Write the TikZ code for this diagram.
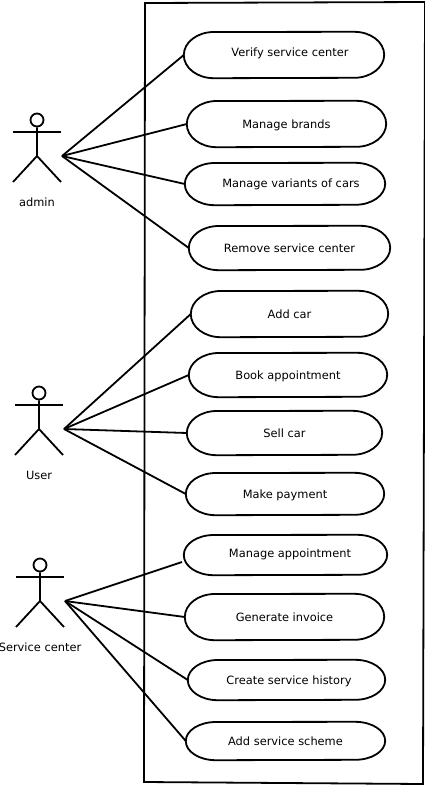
\documentclass[tikz,border=0pt]{standalone}
\usepackage{fontspec}
\setmainfont{DejaVu Sans}
\tikzset{
  usecase/.style={inner sep=0pt, text height=10pt, text depth=2pt},
  actorlabel/.style={inner sep=0pt, text height=10pt, text depth=2pt},
  link/.style={line width=1.8pt},
  stick/.style={line width=1.8pt}
}
\begin{document}
\begin{tikzpicture}[x=1pt,y=-1pt,font=\fontsize{11.4}{13}\selectfont]
\useasboundingbox (0,0) rectangle (425,785);
%\draw[help lines,step=50pt] (0,0) grid (425,785);
\draw [link] (145,3) -- (425,2) -- (423,784) -- (144,782) -- cycle;
% actors
\foreach \n/\x/\y/\t in {admin/37/120/admin,user/39/393/User,service/40/565/Service center} {
  \node [draw, circle, stick, minimum size=13pt, inner sep=0pt] (\n head) at (\x,\y) {};
  \draw [stick] (\n head.south) -- (\x,\y+36) -- (\x-24,\y+62);
  \draw [stick] (\x,\y+36) -- (\x+24,\y+62);
  \draw [stick] (\x-24,\y+12) -- (\x+24,\y+12);
  \coordinate (\n) at (\x+25,\y+36);
  \node [actorlabel] (\n label) at (\x,\y+82) {\t};
}
% use cases
\foreach \n/\cx/\cy/\w/\h/\dx/\dy/\t in {
  verify/284/55/200/46/12/3/Verify service center,
  brands/286.5/124/199/46/0/0/Manage brands,
  variants/285/184/200/42/12/1/Manage variants of cars,
  remove/289.5/248/201/44/0/0/Remove service center,
  addcar/289.5/314/197/46/0/0/Add car,
  book/288/375/198/44/0/0/Book appointment,
  sell/284.5/433/195/44/0/0/Sell car,
  payment/285/494/198/42/0/0/Make payment,
  appointment/285.5/555/203/40/9/2/Manage appointment,
  invoice/284.5/617/199/46/0/0/Generate invoice,
  history/286.5/680/197/40/5/0/Create service history,
  scheme/285.5/741/199/38/0/0/Add service scheme} {
  \node [usecase, minimum width=\w pt, minimum height=\h pt] (\n) at (\cx,\cy)
    {\hspace*{\dx pt}\raisebox{\dy pt}[0pt][0pt]{\t}};
  \draw [link] (\n.west) arc [x radius=30pt, y radius=\h/2 pt, start angle=180, end angle=90]
    -- ([xshift=-30pt]\n.north east) arc [x radius=30pt, y radius=\h/2 pt, start angle=90, end angle=-90]
    -- ([xshift=30pt]\n.south west) arc [x radius=30pt, y radius=\h/2 pt, start angle=270, end angle=180] -- cycle;
}
% links
\coordinate (appointmentend) at (182,562);
\foreach \a/\b in {admin/verify,admin/brands,admin/variants,admin/remove,
  user/addcar,user/book,user/sell,user/payment,
  service/invoice,service/history,service/scheme}
  \draw [link] (\a) -- (\b.west);
\draw [link] (service) -- (appointmentend);
\end{tikzpicture}
\end{document}
